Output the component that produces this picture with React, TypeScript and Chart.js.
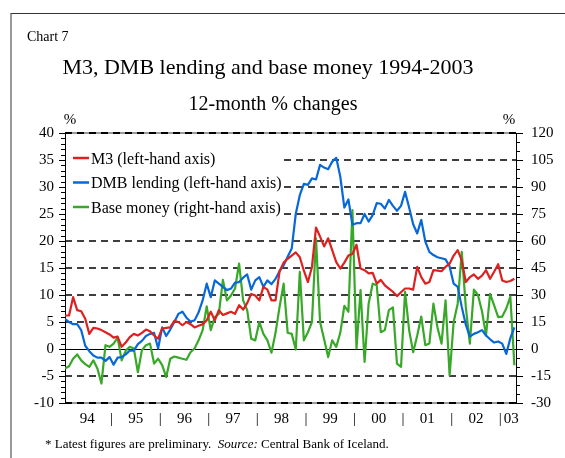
import React, { useEffect, useRef } from "react";
import { Chart, registerables } from "chart.js";

Chart.register(...registerables);

// Monthly categories, Jan 1994 – Apr 2003
const months: string[] = [];
for (let y = 1994; y <= 2003; y++) {
  for (let m = 1; m <= 12; m++) {
    if (months.length < 112) months.push(`${y}-${String(m).padStart(2, "0")}`);
  }
}

const yearLabels = ["94", "95", "96", "97", "98", "99", "00", "01", "02", "03"];

// M3, 12-month % change (left axis)
const m3: number[] = [
  6.2, 6.2, 9.6, 7.2, 7.0, 5.6, 2.8, 3.9, 3.8, 3.5, 3.1, 2.7,
  2.1, 2.3, 0.4, 1.2, 2.2, 2.8, 2.5, 3.0, 3.6, 3.3, 2.5, 1.9,
  3.8, 3.9, 4.0, 5.2, 5.0, 4.4, 5.0, 4.6, 4.0, 4.3, 4.6, 5.3,
  6.9, 5.3, 7.2, 6.3, 6.6, 6.9, 6.5, 8.1, 7.3, 8.5, 10.2, 9.9,
  9.0, 11.5, 11.0, 9.0, 9.0, 14.4, 16.0, 16.7, 17.3, 17.9, 17.0, 14.5,
  12.4, 15.2, 22.5, 20.8, 19.0, 20.5, 18.3, 16.1, 14.9, 16.0, 17.3, 17.6,
  19.3, 14.9, 14.6, 14.0, 14.1, 12.1, 12.8, 11.8, 11.2, 10.6, 9.8, 10.5,
  11.2, 11.2, 11.0, 15.2, 13.3, 12.1, 12.4, 14.6, 14.5, 14.4, 15.2, 15.8,
  17.3, 18.3, 16.4, 12.4, 13.3, 13.8, 13.0, 13.6, 14.6, 13.0, 14.3, 15.7,
  12.7, 12.4, 12.6, 13.0,
];

// DMB lending, 12-month % change (left axis)
const dmbLending: number[] = [
  5.6, 5.0, 4.6, 4.6, 3.5, 0.6, -0.4, -1.2, -1.6, -1.6, -2.2, -1.5,
  -2.9, -1.6, -1.5, -1.0, -0.3, -0.3, 0.9, 1.5, 2.4, 2.8, 3.0, 0.1,
  4.0, 2.4, 3.6, 5.0, 6.5, 6.9, 5.8, 5.1, 5.3, 6.8, 9.0, 12.1,
  9.6, 12.7, 12.1, 11.5, 10.9, 11.2, 12.3, 12.4, 13.2, 13.8, 11.0, 12.7,
  13.3, 11.5, 12.7, 12.0, 13.0, 14.4, 15.5, 17.1, 18.6, 25.0, 28.5, 30.6,
  30.4, 31.6, 31.4, 34.1, 33.6, 33.3, 34.7, 35.4, 31.9, 26.2, 27.7, 23.0,
  23.3, 23.3, 25.0, 23.6, 24.8, 27.0, 26.9, 26.0, 27.6, 26.5, 25.6, 26.5,
  29.1, 26.2, 23.1, 21.4, 23.9, 19.9, 18.0, 17.4, 17.0, 16.8, 16.6, 15.3,
  12.1, 11.5, 7.8, 4.5, 2.3, 2.8, 3.1, 3.5, 2.5, 1.8, 1.2, 1.4,
  1.0, -0.9, 2.0, 4.0,
];

// Base money, 12-month % change (right axis)
const baseMoney: number[] = [
  -10.8, -9.6, -5.4, -3.0, -6.3, -8.4, -9.9, -6.3, -10.8, -19.2, 2.1, 1.2,
  3.0, 6.3, -6.3, -0.9, 1.2, 0.3, -12.9, -0.6, 2.1, 3.0, -8.1, -5.4,
  -9.0, -15.6, -5.4, -4.2, -4.8, -5.4, -6.0, -1.8, 0.3, 4.8, 10.5, 23.7,
  10.5, 17.7, 19.5, 38.4, 27.0, 29.7, 33.6, 47.4, 27.0, 21.6, 5.7, 4.8,
  15.0, 8.4, 4.8, -2.1, 9.0, 23.4, 36.3, 9.0, 8.4, -0.3, 42.9, 4.8,
  9.3, 15.0, 61.5, 15.0, 5.4, -4.5, 4.8, 1.2, 9.0, 24.0, 20.7, 77.1,
  0.3, 32.7, -7.2, 25.2, 36.3, 35.4, 9.3, 10.5, 21.6, 23.1, -8.1, -9.9,
  31.8, 10.5, -1.8, 7.5, 18.0, 2.1, 3.0, 25.2, 12.0, 3.0, 27.0, -14.7,
  15.0, 25.2, 54.0, 23.4, 3.0, 33.0, 30.0, 21.0, 7.5, 30.6, 24.3, 17.7,
  18.0, 22.5, 29.1, -9.0,
];

const seriesLabels = [
  "M3 (left-hand axis)",
  "DMB lending (left-hand axis)",
  "Base money (right-hand axis)",
];
const seriesColors = ["#dd2020", "#0868d8", "#38a828"];

// x-axis tick marks: year labels centred in each year, "|" at year boundaries
const xTicks: { value: number; label: string }[] = [];
yearLabels.forEach((lab, k) => {
  const start = k * 12;
  if (k < yearLabels.length - 1) {
    xTicks.push({ value: start + 5.5, label: lab });
    xTicks.push({ value: start + 11.5, label: "|" });
  } else {
    xTicks.push({ value: start + 2.2, label: lab });
  }
});

const FONT = '"Liberation Serif", "Times New Roman", Times, serif';

const decorPlugin = {
  id: "decor",
  beforeDraw(chart: any) {
    const { ctx, chartArea: a, scales } = chart;
    const yL = scales.y;
    const yR = scales.y2;
    const line = (x1: number, y1: number, x2: number, y2: number) => {
      ctx.beginPath();
      ctx.moveTo(x1, y1);
      ctx.lineTo(x2, y2);
      ctx.stroke();
    };
    ctx.save();
    // dashed grid lines
    ctx.strokeStyle = "#000";
    ctx.lineWidth = 1.4;
    ctx.setLineDash([7, 5]);
    const legendRight = a.left + 219;
    [35, 30, 25, 20, 15, 10, 5, -5].forEach((v) => {
      const py = yL.getPixelForValue(v);
      const x0 = v >= 25 ? legendRight : a.left;
      line(x0, py, a.right, py);
    });
    // top and bottom frame lines
    ctx.setLineDash([]);
    ctx.strokeStyle = "#999";
    ctx.lineWidth = 2;
    line(a.left, a.top, a.right, a.top);
    line(a.left, a.bottom, a.right, a.bottom);
    ctx.setLineDash([7, 5]);
    ctx.strokeStyle = "#000";
    line(a.left, a.top, a.right, a.top);
    line(a.left, a.bottom, a.right, a.bottom);
    // zero line
    ctx.setLineDash([]);
    ctx.lineWidth = 1;
    const zy = Math.round(yL.getPixelForValue(0)) + 0.5;
    line(a.left, zy, a.right, zy);
    // minor ticks
    for (let v = yL.min; v <= yL.max; v += 1) {
      if (v % 5 === 0) continue;
      const py = Math.round(yL.getPixelForValue(v)) + 0.5;
      line(a.left - 4, py, a.left, py);
    }
    for (let v = yR.min; v <= yR.max; v += 5) {
      if (v % 15 === 0) continue;
      const py = Math.round(yR.getPixelForValue(v)) + 0.5;
      line(a.right, py, a.right + 4, py);
    }
    // legend
    ctx.font = `16px ${FONT}`;
    ctx.textBaseline = "alphabetic";
    ctx.textAlign = "left";
    chart.data.datasets.forEach((ds: any, k: number) => {
      const yc = a.top + 25 + k * 24.5;
      ctx.strokeStyle = ds.borderColor;
      ctx.lineWidth = 2.5;
      line(a.left + 8, yc, a.left + 24, yc);
      ctx.fillStyle = "#000";
      ctx.fillText(ds.label, a.left + 26, yc + 5.5);
    });
    ctx.restore();
  },
};

export default function App() {
  const canvasRef = useRef<HTMLCanvasElement | null>(null);

  useEffect(() => {
    const canvas = canvasRef.current;
    if (!canvas) return;
    Chart.defaults.font.family = FONT;
    Chart.defaults.color = "#000";

    const values = [m3, dmbLending, baseMoney];
    const axisIds = ["y", "y", "y2"];

    const chart = new Chart(canvas, {
      type: "line",
      data: {
        labels: months,
        datasets: values.map((arr, k) => ({
          label: seriesLabels[k],
          data: arr.map((v, i) => ({ x: i, y: v })),
          borderColor: seriesColors[k],
          backgroundColor: seriesColors[k],
          borderWidth: 2.2,
          pointRadius: 0,
          tension: 0,
          borderJoinStyle: "round" as const,
          yAxisID: axisIds[k],
        })),
      },
      options: {
        responsive: false,
        maintainAspectRatio: false,
        animation: false,
        events: [],
        layout: { padding: { left: 20, right: 4, top: 133, bottom: 25 } },
        plugins: {
          legend: { display: false },
          tooltip: { enabled: false },
          title: { display: false },
        },
        scales: {
          x: {
            type: "linear",
            position: "bottom",
            min: 0,
            max: 111.4,
            grid: { display: false, drawTicks: false },
            border: { display: false },
            ticks: {
              autoSkip: false,
              maxRotation: 0,
              padding: 7,
              font: { size: 15, family: FONT },
              color: "#000",
              callback: (value: any) => {
                const t = xTicks.find((tk) => Math.abs(tk.value - Number(value)) < 1e-6);
                return t ? t.label : "";
              },
            },
            afterBuildTicks: (axis: any) => {
              axis.ticks = xTicks.map((t) => ({ value: t.value }));
            },
            afterFit: (s: any) => {
              s.height = 30;
            },
          },
          y: {
            type: "linear",
            position: "left",
            min: -10,
            max: 40,
            ticks: {
              stepSize: 5,
              padding: 5,
              font: { size: 15, family: FONT },
              color: "#000",
            },
            grid: {
              drawOnChartArea: false,
              drawTicks: true,
              tickLength: 6,
              tickColor: "#000",
              tickWidth: 1,
            },
            border: { display: true, color: "#000", width: 1 },
            afterFit: (s: any) => {
              s.width = 45;
            },
          },
          y2: {
            type: "linear",
            position: "right",
            min: -30,
            max: 120,
            ticks: {
              stepSize: 15,
              padding: 8,
              font: { size: 15, family: FONT },
              color: "#000",
            },
            grid: {
              drawOnChartArea: false,
              drawTicks: true,
              tickLength: 7,
              tickColor: "#000",
              tickWidth: 1,
            },
            border: { display: true, color: "#000", width: 1 },
            afterFit: (s: any) => {
              s.width = 45;
            },
          },
        },
      },
      plugins: [decorPlugin],
    });

    return () => chart.destroy();
  }, []);

  const text = (extra: React.CSSProperties): React.CSSProperties => ({
    position: "absolute",
    fontFamily: FONT,
    color: "#000",
    lineHeight: 1,
    whiteSpace: "pre",
    ...extra,
  });

  return (
    <div
      style={{
        position: "fixed",
        left: 0,
        top: 0,
        width: 565,
        height: 458,
        background: "#fff",
        overflow: "hidden",
      }}
    >
      <div
        style={{
          position: "absolute",
          left: 10,
          top: 13,
          width: 600,
          height: 460,
          borderTop: "1px solid #333",
          borderLeft: "2px solid #999",
        }}
      />
      <canvas
        ref={canvasRef}
        width={565}
        height={458}
        style={{ position: "absolute", left: 0, top: 0, width: 565, height: 458 }}
      />
      <div style={text({ left: 27, top: 30, fontSize: 14 })}>Chart 7</div>
      <div style={text({ left: 0, width: 536, top: 56, fontSize: 22, textAlign: "center" })}>
        M3, DMB lending and base money 1994-2003
      </div>
      <div style={text({ left: 0, width: 546, top: 93, fontSize: 20, textAlign: "center" })}>
        12-month % changes
      </div>
      <div style={text({ left: 62, width: 16, top: 112, fontSize: 15, textAlign: "center" })}>%</div>
      <div style={text({ left: 501, width: 16, top: 112, fontSize: 15, textAlign: "center" })}>%</div>
      <div style={text({ left: 45, top: 437, fontSize: 13 })}>
        {"* Latest figures are preliminary.  "}
        <i>Source:</i>
        {" Central Bank of Iceland."}
      </div>
    </div>
  );
}
